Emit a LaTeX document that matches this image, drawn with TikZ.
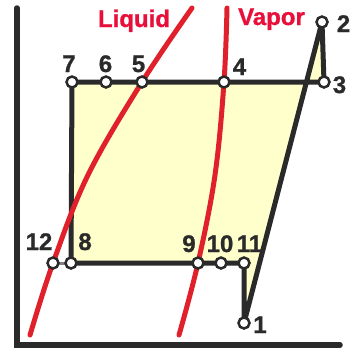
\documentclass[tikz,border=0pt]{standalone}
\usepackage{fontspec}
\setmainfont{Liberation Sans}
\newfontface\heavy[FakeBold=1]{Liberation Sans Bold}
\definecolor{ink}{HTML}{2A2A2A}
\definecolor{curvered}{HTML}{E0202A}
\definecolor{textred}{HTML}{E8103A}
\definecolor{cyclefill}{HTML}{FFFFCC}
\begin{document}
\begin{tikzpicture}[x=1pt,y=-1pt,
  cycleline/.style={draw=ink,line width=5pt,line join=round},
  axisline/.style={draw=ink,line width=5.5pt,line cap=round},
  satcurve/.style={draw=curvered,line width=5pt,line cap=round},
  pt/.style={circle,draw=ink,fill=white,line width=2.5pt,minimum size=11pt,inner sep=0pt},
  num/.style={anchor=base,inner sep=0pt,text=ink,font=\fontsize{24}{28}\heavy},
  word/.style={anchor=base,inner sep=0pt,text=textred,font=\fontsize{24}{28}\heavy}]
\useasboundingbox (0,0) rectangle (350,349);
% state points
\coordinate (c1) at (244,323);
\coordinate (c2) at (322,22);
\coordinate (c3) at (324,82);
\coordinate (c4) at (224,82);
\coordinate (c5) at (142,82);
\coordinate (c6) at (106,82);
\coordinate (c7) at (72,82);
\coordinate (c8) at (71,263);
\coordinate (c9) at (198,263);
\coordinate (c10) at (221,263);
\coordinate (c11) at (244,263);
\coordinate (c12) at (53,263);
% axes
\coordinate (ytop) at (17,8);
\coordinate (origin) at (17,345);
\coordinate (xend) at (340,345);
\draw[axisline] (ytop) -- (origin) -- (xend);
% fill
\fill[cyclefill] (c7) -- (c3) -- (c2) -- (c1) -- (c11) -- (c8) -- cycle;
% cycle lines
\draw[gray,line width=3pt] (c12) -- (c8);
\draw[cycleline] (c7) -- (c3) -- (c2) -- (c1) -- (c11) -- (c8) -- cycle;
% saturation curves
\draw[satcurve] plot[smooth,tension=0.6] coordinates {(30,335) (53,263) (88,175) (142,82) (192,8)};
\draw[satcurve] plot[smooth,tension=0.6] coordinates {(179,335) (198,263) (215,175) (224,82) (227,8)};
% point markers
\foreach \i in {1,...,12} { \node[pt] (p\i) at (c\i) {}; }
% labels
\node[word] (liq) at (134,27) {Liquid};
\node[word] (vap) at (271.5,25) {Vapor};
\node[num] (l1) at (260,333) {1};
\node[num] (l2) at (343.5,32) {2};
\node[num] (l3) at (339.5,93) {3};
\node[num] (l4) at (239.5,75) {4};
\node[num] (l5) at (138.5,72) {5};
\node[num] (l6) at (105.5,72) {6};
\node[num] (l7) at (69,72) {7};
\node[num] (l8) at (85,250) {8};
\node[num] (l9) at (189,252) {9};
\node[num] (l10) at (220,252) {10};
\node[num] (l11) at (249.5,252) {11};
\node[num] (l12) at (39,250) {12};
\end{tikzpicture}
\end{document}
